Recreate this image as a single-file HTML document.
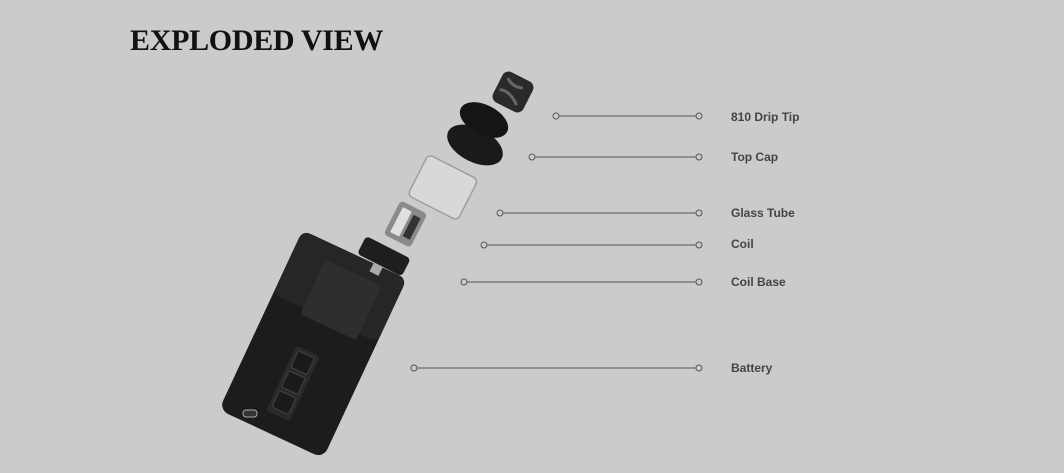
<!DOCTYPE html>
<html><head><meta charset="utf-8"><style>
body{margin:0;background:#cbcbcb;width:1064px;height:473px;overflow:hidden;}
svg{display:block}
</style></head><body>
<svg width="1064" height="473" xmlns="http://www.w3.org/2000/svg">
<rect width="1064" height="473" fill="#cbcbcb"/>
<text x="130" y="50" font-family="Liberation Serif, serif" font-weight="bold" font-size="30" fill="#111" letter-spacing="-0.3">EXPLODED VIEW</text>
<g stroke="#555" stroke-width="1" fill="#cbcbcb">
<line x1="556" y1="116" x2="699" y2="116"/><circle cx="556" cy="116" r="3"/><circle cx="699" cy="116" r="3"/>
<line x1="532" y1="157" x2="699" y2="157"/><circle cx="532" cy="157" r="3"/><circle cx="699" cy="157" r="3"/>
<line x1="500" y1="213" x2="699" y2="213"/><circle cx="500" cy="213" r="3"/><circle cx="699" cy="213" r="3"/>
<line x1="484" y1="245" x2="699" y2="245"/><circle cx="484" cy="245" r="3"/><circle cx="699" cy="245" r="3"/>
<line x1="464" y1="282" x2="699" y2="282"/><circle cx="464" cy="282" r="3"/><circle cx="699" cy="282" r="3"/>
<line x1="414" y1="368" x2="699" y2="368"/><circle cx="414" cy="368" r="3"/><circle cx="699" cy="368" r="3"/>
</g>
<g font-family="Liberation Sans, sans-serif" font-weight="bold" font-size="12" fill="#444">
<text x="731" y="121">810 Drip Tip</text>
<text x="731" y="161">Top Cap</text>
<text x="731" y="217">Glass Tube</text>
<text x="731" y="248">Coil</text>
<text x="731" y="286">Coil Base</text>
<text x="731" y="372">Battery</text>
</g>
<!-- battery -->
<g transform="rotate(25 312 345)">
<rect x="255" y="245" width="115" height="198" rx="10" fill="#1c1c1c"/>
<rect x="255" y="245" width="115" height="70" rx="8" fill="#262626"/>
<rect x="288" y="262" width="62" height="60" rx="4" fill="#2e2e2e"/>
<rect x="298" y="352" width="26" height="72" rx="3" fill="#2a2a2a"/>
<rect x="302" y="356" width="18" height="18" rx="2" fill="#1a1a1a" stroke="#444"/>
<rect x="302" y="378" width="18" height="18" rx="2" fill="#1a1a1a" stroke="#444"/>
<rect x="302" y="400" width="18" height="18" rx="2" fill="#1a1a1a" stroke="#444"/>
</g>
<rect x="243" y="410" width="14" height="7" rx="3" fill="#333" stroke="#aaa"/>
<!-- coil base -->
<g transform="rotate(27 383 258)">
<rect x="358" y="246" width="50" height="20" rx="4" fill="#1e1e1e"/>
<rect x="377" y="266" width="10" height="10" fill="#aaa"/>
</g>
<!-- coil -->
<g transform="rotate(27 405 225)">
<rect x="390" y="205" width="30" height="38" rx="4" fill="#8a8a8a"/>
<rect x="395" y="210" width="10" height="28" fill="#e0e0e0"/>
<rect x="408" y="212" width="8" height="24" fill="#333"/>
</g>
<!-- glass -->
<g transform="rotate(27 442 187)">
<rect x="415" y="164" width="56" height="46" rx="5" fill="#dadada" stroke="#999" stroke-width="1.5" opacity="0.9"/>
</g>
<!-- top cap -->
<ellipse cx="475" cy="145" rx="30" ry="17" transform="rotate(27 475 145)" fill="#1a1a1a"/>
<ellipse cx="484" cy="120" rx="26" ry="15" transform="rotate(27 484 120)" fill="#151515"/>
<!-- drip tip -->
<g transform="rotate(27 513 92)">
<rect x="496" y="75" width="34" height="34" rx="7" fill="#2a2a2a"/>
<path d="M502 82 q8 6 18 2 M500 96 q10 -4 22 6" stroke="#666" stroke-width="3" fill="none"/>
</g>
</svg>
</body></html>
